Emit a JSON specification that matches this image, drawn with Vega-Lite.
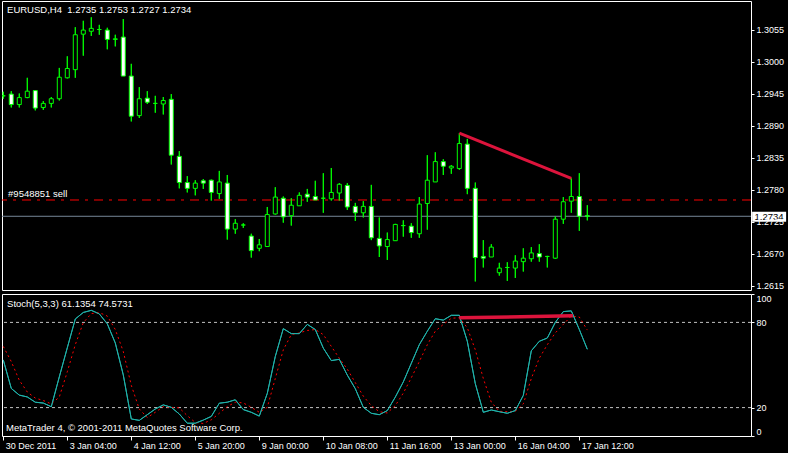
{
 "$schema": "https://vega.github.io/schema/vega-lite/v6.json",
 "background": "#000000",
 "padding": {"left": 0, "top": 0, "right": 10, "bottom": 10},
 "spacing": 1,
 "config": {
  "view": {"stroke": "#ffffff", "strokeWidth": 1},
  "axis": {"labelColor": "#ffffff", "tickColor": "#ffffff", "domain": false, "grid": false, "labelFont": "Liberation Sans", "labelFontSize": 9, "labelOverlap": false, "title": null},
  "text": {"font": "Liberation Sans", "fontSize": 9.5, "fill": "#ffffff"}
 },
 "datasets": {
  "bars": [
   {"i":0,"o":1.2941,"h":1.2948,"l":1.2936,"c":1.2941,"k":53.6,"d":63.1},
   {"i":1,"o":1.2944,"h":1.2949,"l":1.2921,"c":1.2926,"k":33.5,"d":52.4},
   {"i":2,"o":1.2926,"h":1.2945,"l":1.2921,"c":1.2938,"k":28.8,"d":39.3},
   {"i":3,"o":1.2938,"h":1.2972,"l":1.2937,"c":1.2949,"k":27.5,"d":31.0},
   {"i":4,"o":1.2950,"h":1.2951,"l":1.2916,"c":1.2920,"k":23.8,"d":26.7},
   {"i":5,"o":1.2921,"h":1.2932,"l":1.2917,"c":1.2928,"k":23.2,"d":25.0},
   {"i":6,"o":1.2928,"h":1.2939,"l":1.2921,"c":1.2936,"k":20.6,"d":22.6},
   {"i":7,"o":1.2936,"h":1.2989,"l":1.2933,"c":1.2973,"k":41.6,"d":27.4},
   {"i":8,"o":1.2972,"h":1.3009,"l":1.2971,"c":1.2988,"k":62.1,"d":45.2},
   {"i":9,"o":1.2986,"h":1.3059,"l":1.2972,"c":1.3046,"k":82.4,"d":64.3},
   {"i":10,"o":1.3047,"h":1.3070,"l":1.3010,"c":1.3054,"k":87.0,"d":79.8},
   {"i":11,"o":1.3052,"h":1.3076,"l":1.3044,"c":1.3057,"k":88.5,"d":86.2},
   {"i":12,"o":1.3055,"h":1.3063,"l":1.3046,"c":1.3055,"k":86.0,"d":86.9},
   {"i":13,"o":1.3054,"h":1.3058,"l":1.3021,"c":1.3038,"k":79.0,"d":84.5},
   {"i":14,"o":1.3038,"h":1.3046,"l":1.3026,"c":1.3039,"k":65.5,"d":75.0},
   {"i":15,"o":1.3042,"h":1.3073,"l":1.2975,"c":1.2975,"k":43.0,"d":59.5},
   {"i":16,"o":1.2975,"h":1.2996,"l":1.2897,"c":1.2906,"k":12.0,"d":35.7},
   {"i":17,"o":1.2907,"h":1.2956,"l":1.2903,"c":1.2936,"k":11.0,"d":19.0},
   {"i":18,"o":1.2937,"h":1.2949,"l":1.2927,"c":1.2930,"k":15.0,"d":13.0},
   {"i":19,"o":1.2928,"h":1.2941,"l":1.2912,"c":1.2928,"k":19.0,"d":16.7},
   {"i":20,"o":1.2927,"h":1.2939,"l":1.2909,"c":1.2933,"k":21.9,"d":20.7},
   {"i":21,"o":1.2935,"h":1.2944,"l":1.2823,"c":1.2839,"k":20.2,"d":20.2},
   {"i":22,"o":1.2837,"h":1.2846,"l":1.2782,"c":1.2792,"k":15.5,"d":19.8},
   {"i":23,"o":1.2792,"h":1.2803,"l":1.2775,"c":1.2782,"k":9.0,"d":14.3},
   {"i":24,"o":1.2782,"h":1.2796,"l":1.2770,"c":1.2791,"k":9.0,"d":9.5},
   {"i":25,"o":1.2795,"h":1.2798,"l":1.2781,"c":1.2791,"k":11.2,"d":8.8},
   {"i":26,"o":1.2796,"h":1.2797,"l":1.2761,"c":1.2775,"k":13.8,"d":11.4},
   {"i":27,"o":1.2773,"h":1.2812,"l":1.2764,"c":1.2793,"k":23.1,"d":16.0},
   {"i":28,"o":1.2791,"h":1.2805,"l":1.2694,"c":1.2712,"k":23.8,"d":20.7},
   {"i":29,"o":1.2712,"h":1.2729,"l":1.2704,"c":1.2722,"k":25.5,"d":23.8},
   {"i":30,"o":1.2719,"h":1.2722,"l":1.2714,"c":1.2719,"k":18.6,"d":23.3},
   {"i":31,"o":1.2700,"h":1.2704,"l":1.2663,"c":1.2675,"k":16.7,"d":20.2},
   {"i":32,"o":1.2679,"h":1.2695,"l":1.2674,"c":1.2685,"k":14.0,"d":16.7},
   {"i":33,"o":1.2682,"h":1.2750,"l":1.2682,"c":1.2737,"k":30.0,"d":20.2},
   {"i":34,"o":1.2738,"h":1.2784,"l":1.2737,"c":1.2767,"k":56.0,"d":40.5},
   {"i":35,"o":1.2765,"h":1.2768,"l":1.2723,"c":1.2733,"k":75.6,"d":60.7},
   {"i":36,"o":1.2735,"h":1.2765,"l":1.2718,"c":1.2753,"k":72.1,"d":71.4},
   {"i":37,"o":1.2752,"h":1.2775,"l":1.2752,"c":1.2770,"k":72.1,"d":72.6},
   {"i":38,"o":1.2772,"h":1.2781,"l":1.2759,"c":1.2767,"k":78.6,"d":74.3},
   {"i":39,"o":1.2768,"h":1.2795,"l":1.2762,"c":1.2762,"k":75.0,"d":75.0},
   {"i":40,"o":1.2765,"h":1.2808,"l":1.2740,"c":1.2765,"k":61.9,"d":71.4},
   {"i":41,"o":1.2764,"h":1.2817,"l":1.2761,"c":1.2775,"k":53.1,"d":63.1},
   {"i":42,"o":1.2774,"h":1.2791,"l":1.2761,"c":1.2789,"k":54.0,"d":54.8},
   {"i":43,"o":1.2787,"h":1.2791,"l":1.2745,"c":1.2750,"k":42.9,"d":47.1},
   {"i":44,"o":1.2751,"h":1.2757,"l":1.2726,"c":1.2740,"k":33.3,"d":37.6},
   {"i":45,"o":1.2740,"h":1.2760,"l":1.2732,"c":1.2751,"k":20.2,"d":28.1},
   {"i":46,"o":1.2751,"h":1.2788,"l":1.2693,"c":1.2697,"k":16.0,"d":21.4},
   {"i":47,"o":1.2696,"h":1.2732,"l":1.2664,"c":1.2683,"k":15.0,"d":17.1},
   {"i":48,"o":1.2682,"h":1.2706,"l":1.2659,"c":1.2694,"k":17.9,"d":16.2},
   {"i":49,"o":1.2692,"h":1.2721,"l":1.2692,"c":1.2720,"k":27.4,"d":21.4},
   {"i":50,"o":1.2718,"h":1.2727,"l":1.2699,"c":1.2718,"k":38.1,"d":30.2},
   {"i":51,"o":1.2717,"h":1.2722,"l":1.2697,"c":1.2706,"k":51.2,"d":41.0},
   {"i":52,"o":1.2704,"h":1.2767,"l":1.2697,"c":1.2755,"k":64.3,"d":52.4},
   {"i":53,"o":1.2756,"h":1.2839,"l":1.2711,"c":1.2796,"k":73.8,"d":64.3},
   {"i":54,"o":1.2793,"h":1.2844,"l":1.2793,"c":1.2828,"k":82.6,"d":73.8},
   {"i":55,"o":1.2828,"h":1.2832,"l":1.2805,"c":1.2820,"k":81.6,"d":78.6},
   {"i":56,"o":1.2817,"h":1.2822,"l":1.2807,"c":1.2820,"k":85.0,"d":82.9},
   {"i":57,"o":1.2816,"h":1.2877,"l":1.2814,"c":1.2859,"k":85.0,"d":83.3},
   {"i":58,"o":1.2858,"h":1.2867,"l":1.2772,"c":1.2782,"k":66.7,"d":76.2},
   {"i":59,"o":1.2782,"h":1.2792,"l":1.2622,"c":1.2663,"k":36.9,"d":60.7},
   {"i":60,"o":1.2665,"h":1.2693,"l":1.2646,"c":1.2662,"k":16.7,"d":40.5},
   {"i":61,"o":1.2664,"h":1.2686,"l":1.2664,"c":1.2681,"k":18.3,"d":23.8},
   {"i":62,"o":1.2637,"h":1.2654,"l":1.2632,"c":1.2645,"k":17.1,"d":17.4},
   {"i":63,"o":1.2646,"h":1.2655,"l":1.2623,"c":1.2646,"k":16.0,"d":17.1},
   {"i":64,"o":1.2645,"h":1.2667,"l":1.2628,"c":1.2657,"k":17.9,"d":17.4},
   {"i":65,"o":1.2656,"h":1.2679,"l":1.2639,"c":1.2662,"k":28.6,"d":22.6},
   {"i":66,"o":1.2661,"h":1.2681,"l":1.2656,"c":1.2671,"k":60.0,"d":40.5},
   {"i":67,"o":1.2670,"h":1.2686,"l":1.2656,"c":1.2664,"k":66.7,"d":54.8},
   {"i":68,"o":1.2665,"h":1.2666,"l":1.2646,"c":1.2665,"k":69.0,"d":64.3},
   {"i":69,"o":1.2662,"h":1.2734,"l":1.2661,"c":1.2729,"k":80.0,"d":72.6},
   {"i":70,"o":1.2729,"h":1.2767,"l":1.2721,"c":1.2759,"k":87.6,"d":78.6},
   {"i":71,"o":1.2760,"h":1.2799,"l":1.2740,"c":1.2768,"k":88.1,"d":84.5},
   {"i":72,"o":1.2768,"h":1.2808,"l":1.2709,"c":1.2734,"k":75.0,"d":83.8},
   {"i":73,"o":1.2735,"h":1.2753,"l":1.2727,"c":1.2734,"k":61.1,"d":74.6}
  ],
  "trendPrice": [{"i":57,"p":1.2877},{"i":71,"p":1.2799}],
  "trendStoch": [{"i":57,"v":83.2},{"i":71.2,"v":84.6}],
  "one": [{"n": 1}]
 },
 "vconcat": [
  {
   "width": 749,
   "height": 289,
   "data": {"name": "bars"},
   "layer": [
    {
     "mark": {"type": "rule", "color": "#00ff00", "strokeWidth": 1, "clip": true},
     "encoding": {
      "x": {"field": "i", "type": "quantitative", "scale": {"domain": [-0.16, 93.46], "nice": false, "zero": false, "padding": 0}, "axis": null},
      "y": {"field": "l", "type": "quantitative", "scale": {"domain": [1.26073, 1.3104], "nice": false, "zero": false},
            "axis": {"orient": "right", "title": null, "values": [1.2615, 1.267, 1.2725, 1.278, 1.2835, 1.289, 1.2945, 1.3, 1.3055], "tickCount": 40, "format": ".4f", "tickSize": 3, "labelPadding": 2, "labelFlush": false, "labelOverlap": false, "zindex": 1}},
      "y2": {"field": "h"}
     }
    },
    {
     "data": {"name": "one"},
     "mark": {"type": "rule", "color": "#ff0000", "strokeWidth": 1, "strokeDash": [9, 6, 3, 6]},
     "encoding": {
      "y": {"datum": 1.2762, "type": "quantitative"}
     }
    },
    {
     "data": {"name": "one"},
     "mark": {"type": "rule", "color": "#778899", "strokeWidth": 1},
     "encoding": {
      "y": {"datum": 1.2734, "type": "quantitative"}
     }
    },
    {
     "mark": {"type": "rule", "color": "#00ff00", "strokeWidth": 1, "clip": true},
     "encoding": {
      "x": {"field": "i", "type": "quantitative"},
      "y": {"field": "l", "type": "quantitative"},
      "y2": {"field": "h"}
     }
    },
    {
     "mark": {"type": "bar", "size": 4, "stroke": "#00ff00", "strokeWidth": 1, "clip": true},
     "encoding": {
      "x": {"field": "i", "type": "quantitative"},
      "y": {"field": "o", "type": "quantitative"},
      "y2": {"field": "c"},
      "fill": {"condition": {"test": "datum.c < datum.o", "value": "#ffffff"}, "value": "#000000"}
     }
    },
    {
     "data": {"name": "trendPrice"},
     "mark": {"type": "line", "color": "#dc143c", "strokeWidth": 3},
     "encoding": {
      "x": {"field": "i", "type": "quantitative"},
      "y": {"field": "p", "type": "quantitative"}
     }
    },
    {
     "data": {"name": "one"},
     "mark": {"type": "text", "align": "left", "baseline": "middle", "text": "EURUSD,H4\u00a0 1.2735 1.2753 1.2727 1.2734"},
     "encoding": {
      "x": {"datum": 0.47, "type": "quantitative"},
      "y": {"datum": 1.30885, "type": "quantitative"}
     }
    },
    {
     "data": {"name": "one"},
     "mark": {"type": "text", "align": "left", "baseline": "middle", "text": "#9548851 sell"},
     "encoding": {
      "x": {"datum": 0.6, "type": "quantitative"},
      "y": {"datum": 1.2772, "type": "quantitative"}
     }
    },
    {
     "data": {"name": "one"},
     "mark": {"type": "rect", "fill": "#ffffff"},
     "encoding": {
      "x": {"datum": 93.6, "type": "quantitative"},
      "x2": {"datum": 97.85},
      "y": {"datum": 1.27418, "type": "quantitative"},
      "y2": {"datum": 1.27246}
     }
    },
    {
     "data": {"name": "one"},
     "mark": {"type": "text", "align": "center", "baseline": "middle", "fill": "#000000", "fontSize": 9.5, "text": "1.2734"},
     "encoding": {
      "x": {"datum": 95.72, "type": "quantitative"},
      "y": {"datum": 1.2733, "type": "quantitative"}
     }
    }
   ]
  },
  {
   "width": 749,
   "height": 142,
   "data": {"name": "bars"},
   "layer": [
    {
     "mark": {"type": "line", "color": "#20b2aa", "strokeWidth": 1},
     "encoding": {
      "x": {"field": "i", "type": "quantitative", "scale": {"domain": [-0.16, 93.46], "nice": false, "zero": false, "padding": 0},
            "axis": {"orient": "bottom", "title": null, "values": [0, 8, 16, 24, 32, 40, 48, 56, 64, 72], "tickCount": 40, "labelExpr": "['30 Dec 2011','3 Jan 04:00','4 Jan 12:00','5 Jan 20:00','9 Jan 00:00','10 Jan 08:00','11 Jan 16:00','13 Jan 00:00','16 Jan 04:00','17 Jan 12:00'][round(datum.value/8)]", "labelAlign": "left", "labelBaseline": "top", "labelOffset": 2, "labelPadding": 1, "tickSize": 4, "labelFlush": false, "labelOverlap": false, "zindex": 1}},
      "y": {"field": "k", "type": "quantitative", "scale": {"domain": [0, 100], "nice": false, "zero": false},
            "axis": {"orient": "right", "title": null, "values": [0, 20, 80, 100], "tickCount": 20, "tickSize": 3, "labelPadding": 2, "labelFlush": true, "labelOverlap": false, "zindex": 1}}
     }
    },
    {
     "data": {"name": "one"},
     "mark": {"type": "rule", "color": "#c0c0c0", "strokeWidth": 1, "strokeDash": [3, 3]},
     "encoding": {
      "y": {"datum": 80, "type": "quantitative"}
     }
    },
    {
     "data": {"name": "one"},
     "mark": {"type": "rule", "color": "#c0c0c0", "strokeWidth": 1, "strokeDash": [3, 3]},
     "encoding": {
      "y": {"datum": 20, "type": "quantitative"}
     }
    },
    {
     "mark": {"type": "line", "color": "#ff0000", "strokeWidth": 1, "strokeDash": [2, 3]},
     "encoding": {
      "x": {"field": "i", "type": "quantitative"},
      "y": {"field": "d", "type": "quantitative"}
     }
    },
    {
     "mark": {"type": "line", "color": "#20b2aa", "strokeWidth": 1},
     "encoding": {
      "x": {"field": "i", "type": "quantitative"},
      "y": {"field": "k", "type": "quantitative"}
     }
    },
    {
     "data": {"name": "trendStoch"},
     "mark": {"type": "line", "color": "#dc143c", "strokeWidth": 3.5},
     "encoding": {
      "x": {"field": "i", "type": "quantitative"},
      "y": {"field": "v", "type": "quantitative"}
     }
    },
    {
     "data": {"name": "one"},
     "mark": {"type": "text", "align": "left", "baseline": "middle", "text": "Stoch(5,3,3) 61.1354 74.5731"},
     "encoding": {
      "x": {"datum": 0.47, "type": "quantitative"},
      "y": {"datum": 92.7, "type": "quantitative"}
     }
    },
    {
     "data": {"name": "one"},
     "mark": {"type": "text", "align": "left", "baseline": "middle", "text": "MetaTrader 4, © 2001-2011 MetaQuotes Software Corp."},
     "encoding": {
      "x": {"datum": 0.34, "type": "quantitative"},
      "y": {"datum": 5.8, "type": "quantitative"}
     }
    }
   ]
  }
 ]
}
